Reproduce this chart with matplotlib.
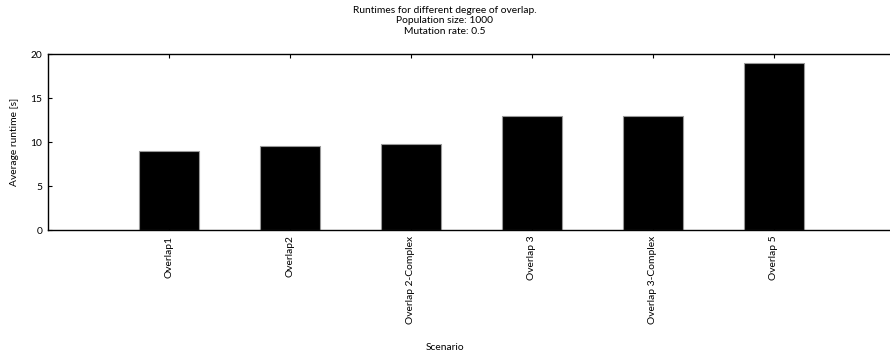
import matplotlib
matplotlib.use("Agg")
import matplotlib.pyplot as plt
import numpy as np

scenarios = ["Overlap1", "Overlap2", "Overlap 2-Complex", "Overlap 3",
             "Overlap 3-Complex", "Overlap 5"]
runtimes = [8.95, 9.55, 9.8, 13.0, 13.0, 19.0]
yticks = [0, 5, 10, 15, 20]

plt.rcParams['font.family'] = ['Lato', 'DejaVu Sans']
plt.rcParams['font.size'] = 7.4

fig = plt.figure(figsize=(8.9, 3.54), dpi=100)
# x range runs a little past the right edge of the figure
ax = fig.add_axes([48 / 890, 124 / 354, 847 / 890, 176 / 354])

x = np.arange(len(scenarios))
ax.bar(x, runtimes, width=0.5, color='black', edgecolor='#999999', linewidth=0.8)

ax.set_xlim(-1, 6)
ax.set_ylim(0, 20)
ax.set_yticks(yticks)
ax.set_xticks(x)
ax.set_xticklabels(scenarios, rotation=90, va='top', ha='center')
ax.tick_params(direction='in', length=3, width=0.8, top=True, right=False, pad=4)
for s in ax.spines.values():
    s.set_linewidth(1.0)

ax.set_ylabel("Average runtime [s]", labelpad=8)
fig.text(0.5, 348 / 354, "Runtimes for different degree of overlap.\nPopulation size: 1000\nMutation rate: 0.5",
         ha='center', va='top', linespacing=1.2)
fig.text(0.5, 7 / 354, "Scenario", ha='center', va='center')

fig.savefig("out.png", dpi=100)
